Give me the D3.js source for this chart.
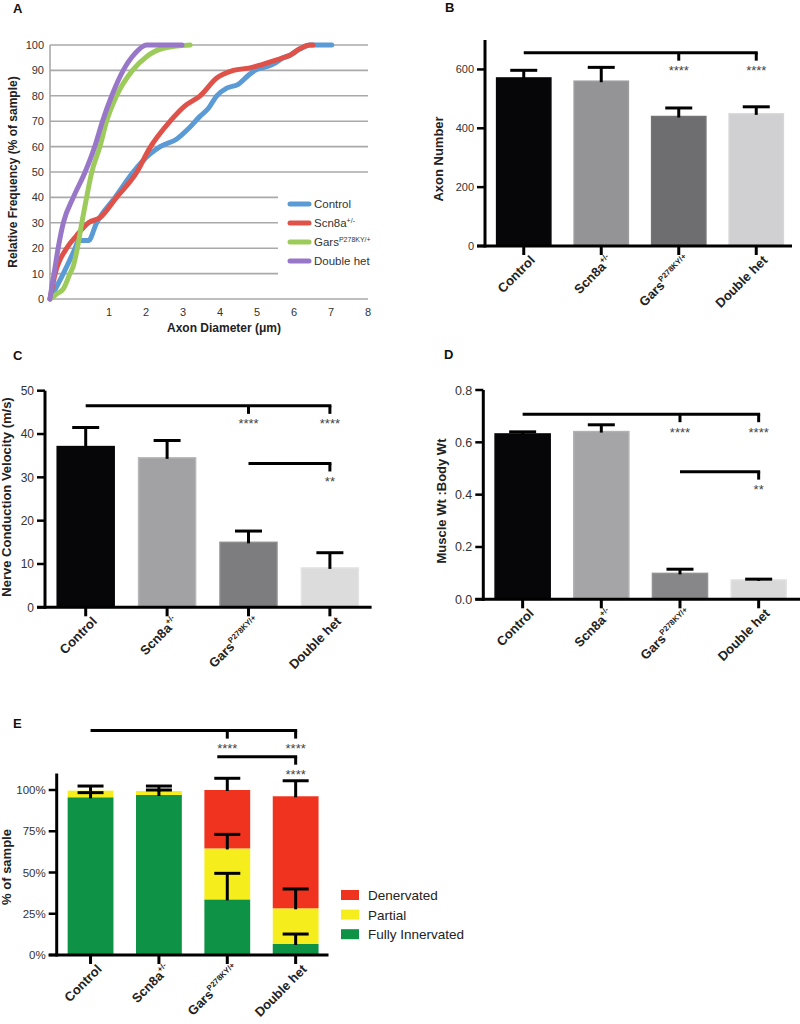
<!DOCTYPE html>
<html><head><meta charset="utf-8">
<script src="https://cdn.jsdelivr.net/npm/d3@7"></script>
<style>
body{margin:0;background:#fff}
svg{display:block}
text{font-family:"Liberation Sans",Arial,Helvetica,sans-serif}
</style>
</head><body>
<svg id="c" width="800" height="1024"></svg>
<script>
// ================= DATA =================
const groups = ["Control", "Scn8a", "Gars", "Double het"];
const groupSup = ["", "+/-", "P278KY/+", ""];

// Panel A: cumulative axon-diameter distributions (x = diameter µm, y = %)
const aSeries = ["Control", "Scn8a", "Gars", "Double het"];
const aSeriesSup = ["", "+/-", "P278KY/+", ""];
const aControlX = [-0.60, -0.24, 0.08, 0.17, 0.44, 0.66, 1.16, 1.65, 2.10, 2.38, 2.83, 3.14, 3.46, 3.68, 3.91, 4.18, 4.49, 4.76, 4.94, 5.26, 5.44, 5.71, 5.89, 6.16, 6.43, 7.02];
const aControlY = [0, 10, 20, 23, 23, 30, 40, 50, 57, 60, 63, 67, 72, 75, 80, 83, 84.5, 88, 90, 91.5, 92.5, 95, 96, 98.5, 100, 100];
const aScn8aX = [-0.60, -0.46, -0.15, 0.12, 0.44, 0.75, 1.20, 1.75, 2.08, 2.65, 3.05, 3.46, 3.91, 4.36, 4.81, 5.17, 5.71, 5.89, 6.16, 6.43, 6.51];
const aScn8aY = [0, 10, 20, 25, 30, 32, 40, 50, 59, 70, 76, 80, 87, 90, 91, 92.5, 95, 96, 98.5, 100, 100];
const aGarsX = [-0.60, -0.42, -0.24, -0.06, 0.03, 0.14, 0.26, 0.39, 0.53, 0.75, 0.93, 1.20, 1.63, 2.01, 2.46, 3.19];
const aGarsY = [0, 2, 4, 10, 13, 20, 30, 40, 50, 60, 70, 80, 90, 95.4, 98.7, 100];
const aDoubleX = [-0.60, -0.55, -0.49, -0.38, -0.24, 0.03, 0.35, 0.61, 0.82, 1.07, 1.38, 1.70, 2.01, 2.97];
const aDoubleY = [0, 5, 10, 20, 30, 40, 50, 60, 70, 80, 90, 96.7, 100, 100];
const aXTicks = [1, 2, 3, 4, 5, 6, 7, 8];
const aYTicks = [0, 10, 20, 30, 40, 50, 60, 70, 80, 90, 100];

// Panel B: axon number
const axonNumber = [571, 560, 440, 449];
const axonNumberSem = [26, 47, 29, 24];
const bTicks = [0, 200, 400, 600];

// Panel C: nerve conduction velocity (m/s)
const ncv = [37.1, 34.5, 15.0, 9.1];
const ncvSem = [4.4, 4.0, 2.6, 3.5];
const cTicks = [0, 10, 20, 30, 40, 50];

// Panel D: muscle wt : body wt
const muscleRatio = [0.632, 0.641, 0.099, 0.074];
const muscleRatioSem = [0.008, 0.026, 0.016, 0.003];
const dTicks = [0, 0.2, 0.4, 0.6, 0.8];

// Panel E: NMJ innervation (% of sample)
const eSeries = ["Fully Innervated", "Partial", "Denervated"];
const eFully = [95.6, 97.0, 33.7, 6.7];
const ePartial = [4.0, 2.4, 30.9, 21.6];
const eDenervated = [0, 0, 35.4, 67.9];
const eFullySem = [2.8, 3.0, 15.8, 6.0];
const ePartialSem = [2.8, 3.0, 8.5, 11.7];
const eDenervatedSem = [0, 0, 7.1, 9.4];
const eTicks = [0, 25, 50, 75, 100];

// significance annotations
const sigB = [{from: "Control", drops: ["Gars", "Double het"], label: "****", level: 657}];
const sigC = [{from: "Control", drops: ["Gars", "Double het"], label: "****", level: 46.5},
              {from: "Gars", drops: ["Double het"], label: "**", level: 33.2}];
const sigD = [{from: "Control", drops: ["Gars", "Double het"], label: "****", level: 0.7075},
              {from: "Gars", drops: ["Double het"], label: "**", level: 0.488}];
const sigE = [{from: "Control", drops: ["Gars", "Double het"], label: "****", level: 136},
              {from: "Gars", drops: ["Double het"], label: "****", level: 120.2}];

// ================= STYLE =================
const aColors = ["#5b9bd5", "#df524a", "#9dcb5b", "#9877c9"];
const eColors = {"Fully Innervated": "#0e9246", "Partial": "#f5ee1c", "Denervated": "#f0331f"};

const svg = d3.select("#c");

function panelLetter(t, x, y) {
  svg.append("text").attr("x", x).attr("y", y).attr("font-weight", "bold")
    .attr("font-size", 13).attr("fill", "#111").text(t);
}

// ================= PANEL A =================
(function () {
  const g = svg.append("g");
  const x = d3.scaleLinear().domain([-0.6, 8]).range([50, 368]);
  const y = d3.scaleLinear().domain([0, 100]).range([299, 45]);

  g.selectAll("line.grid").data(aYTicks).join("line")
    .attr("x1", x(-0.6)).attr("x2", x(8))
    .attr("y1", d => y(d)).attr("y2", d => y(d))
    .attr("stroke", "#a9a9a9").attr("stroke-width", 1.6);
  g.append("line").attr("x1", x(-0.6)).attr("x2", x(-0.6)).attr("y1", y(0)).attr("y2", y(100))
    .attr("stroke", "#a9a9a9").attr("stroke-width", 1.6);

  g.selectAll("text.yt").data(aYTicks).join("text")
    .attr("x", 44).attr("y", d => y(d) + 4).attr("text-anchor", "end")
    .attr("font-size", 11).attr("fill", "#333").text(d => d);
  g.selectAll("text.xt").data(aXTicks).join("text")
    .attr("x", d => x(d)).attr("y", 316).attr("text-anchor", "middle")
    .attr("font-size", 11).attr("fill", "#333").text(d => d);

  g.append("text").attr("transform", "translate(17,172) rotate(-90)")
    .attr("text-anchor", "middle").attr("font-weight", "bold").attr("font-size", 12).attr("fill", "#222")
    .text("Relative Frequency (% of sample)");
  g.append("text").attr("x", 224).attr("y", 332).attr("text-anchor", "middle")
    .attr("font-weight", "bold").attr("font-size", 12).attr("fill", "#222")
    .text("Axon Diameter (\u03bcm)");

  // legend background
  g.append("rect").attr("x", 278).attr("y", 184).attr("width", 100).attr("height", 100).attr("fill", "#fff");

  const line = d3.line().x(d => x(d[0])).y(d => y(d[1])).curve(d3.curveMonotoneX);
  const seriesData = [
    d3.zip(aControlX, aControlY), d3.zip(aScn8aX, aScn8aY),
    d3.zip(aGarsX, aGarsY), d3.zip(aDoubleX, aDoubleY)
  ];
  g.selectAll("path.s").data(seriesData).join("path")
    .attr("d", line).attr("fill", "none")
    .attr("stroke", (d, i) => aColors[i]).attr("stroke-width", 5)
    .attr("stroke-linejoin", "round").attr("stroke-linecap", "round");

  const lg = g.selectAll("g.lg").data(aSeries).join("g")
    .attr("transform", (d, i) => `translate(0,${204 + i * 19})`);
  lg.append("line").attr("x1", 290).attr("x2", 309).attr("y1", 0).attr("y2", 0)
    .attr("stroke", (d, i) => aColors[i]).attr("stroke-width", 5).attr("stroke-linecap", "round");
  const lt = lg.append("text").attr("x", 314).attr("y", 4).attr("font-size", 11.5).attr("fill", "#333");
  lt.append("tspan").text(d => d);
  lt.append("tspan").attr("font-size", 7).attr("dy", -4).text((d, i) => aSeriesSup[i]);
})();

// ================= BAR PANEL HELPERS =================
function xLabels(g, x, axisY, size) {
  const t = g.selectAll("text.xl").data(groups).join("text")
    .attr("transform", d => `translate(${x(d) + x.bandwidth() / 2 + 12},${axisY + 15})rotate(-45)`)
    .attr("text-anchor", "end").attr("font-weight", "bold").attr("font-size", size).attr("fill", "#222");
  t.append("tspan").text(d => d);
  t.append("tspan").attr("font-size", size * 0.6).attr("dy", -size * 0.45).text((d, i) => groupSup[i]);
}

function axes(g, x, y, ticks, fmt, fontSize, xExtra) {
  const x0 = x.range()[0];
  const axisY = y(0);
  g.append("line").attr("x1", x0).attr("x2", x0).attr("y1", axisY + 1.5).attr("y2", y.range()[1])
    .attr("stroke", "#000").attr("stroke-width", 3);
  g.selectAll("line.yt").data(ticks).join("line")
    .attr("x1", x0 - 8).attr("x2", x0).attr("y1", d => y(d)).attr("y2", d => y(d))
    .attr("stroke", "#000").attr("stroke-width", 2.5);
  g.selectAll("text.yl").data(ticks).join("text")
    .attr("x", x0 - 11).attr("y", d => y(d) + fontSize * 0.36).attr("text-anchor", "end")
    .attr("font-size", fontSize).attr("fill", "#333").text(fmt);
  g.append("line").attr("x1", x0 - 8).attr("x2", x.range()[1] + xExtra).attr("y1", axisY).attr("y2", axisY)
    .attr("stroke", "#000").attr("stroke-width", 3);
  g.selectAll("line.xt").data(groups).join("line")
    .attr("x1", d => x(d) + x.bandwidth() / 2).attr("x2", d => x(d) + x.bandwidth() / 2)
    .attr("y1", axisY).attr("y2", axisY + 9)
    .attr("stroke", "#000").attr("stroke-width", 3);
}

function errorBars(g, x, y, base, sem, capW) {
  const d = groups.map((k, i) => ({k, v: base[i], e: sem[i]})).filter(o => o.e > 0);
  const c = k => x(k) + x.bandwidth() / 2;
  g.selectAll(null).data(d).join("line")
    .attr("x1", o => c(o.k)).attr("x2", o => c(o.k)).attr("y1", o => y(o.v) + 1).attr("y2", o => y(o.v + o.e))
    .attr("stroke", "#000").attr("stroke-width", 3);
  g.selectAll(null).data(d).join("line")
    .attr("x1", o => c(o.k) - capW / 2).attr("x2", o => c(o.k) + capW / 2)
    .attr("y1", o => y(o.v + o.e)).attr("y2", o => y(o.v + o.e))
    .attr("stroke", "#000").attr("stroke-width", 3);
}

function sigBrackets(g, x, y, sig, startShift) {
  const c = k => x(k) + x.bandwidth() / 2;
  sig.forEach((s, si) => {
    const yy = y(s.level);
    const right = c(s.drops[s.drops.length - 1]);
    const left = c(s.from) + (si > 0 ? startShift : 0);
    g.append("line").attr("x1", left).attr("x2", right + 1.5).attr("y1", yy).attr("y2", yy)
      .attr("stroke", "#000").attr("stroke-width", 3);
    s.drops.forEach(dk => {
      g.append("line").attr("x1", c(dk)).attr("x2", c(dk)).attr("y1", yy).attr("y2", yy + 8)
        .attr("stroke", "#000").attr("stroke-width", 3);
      g.append("text").attr("x", c(dk)).attr("y", yy + 22.4).attr("text-anchor", "middle")
        .attr("font-size", 13).attr("fill", "#444").text(s.label);
    });
  });
}

function simpleBarPanel(opt, values, sem, ticks, sig) {
  const g = svg.append("g");
  const x = d3.scaleBand().domain(groups).range(opt.xr).paddingInner(0.3).paddingOuter(0.15);
  const y = d3.scaleLinear().domain(opt.yd).range(opt.yr);
  g.selectAll("rect.bar").data(groups).join("rect")
    .attr("x", d => x(d)).attr("width", x.bandwidth())
    .attr("y", (d, i) => y(values[i])).attr("height", (d, i) => y(0) - y(values[i]))
    .attr("fill", (d, i) => opt.fills[i]).attr("stroke", (d, i) => opt.strokes[i]).attr("stroke-width", 1.5);
  axes(g, x, y, ticks, opt.fmt, opt.tickFont, opt.xExtra);
  errorBars(g, x, y, values, sem, 27);
  sigBrackets(g, x, y, sig, 0);
  xLabels(g, x, y(0), 13);
  g.append("text").attr("transform", `translate(${opt.titleX},${opt.titleY})rotate(-90)`)
    .attr("text-anchor", "middle").attr("font-weight", "bold").attr("font-size", 13).attr("fill", "#222")
    .text(opt.title);
}

// ================= PANEL B =================
simpleBarPanel({
  xr: [485, 795], yd: [0, 700], yr: [246, 40],
  fills: ["#060608", "#949497", "#6e6e70", "#d0d0d2"],
  strokes: ["#060608", "#9c9c9f", "#747476", "#d6d6d8"],
  fmt: d => d, tickFont: 11, xExtra: -3,
  title: "Axon Number", titleX: 443, titleY: 159
}, axonNumber, axonNumberSem, bTicks, sigB);

// ================= PANEL C =================
simpleBarPanel({
  xr: [45, 370.6], yd: [0, 50], yr: [607.3, 390.7],
  fills: ["#060608", "#a2a2a4", "#7d7d7f", "#dcdcdd"],
  strokes: ["#060608", "#b6b6b8", "#8e8e90", "#e4e4e5"],
  fmt: d => d, tickFont: 12, xExtra: 1,
  title: "Nerve Conduction Velocity (m/s)", titleX: 11, titleY: 497
}, ncv, ncvSem, cTicks, sigC);

// ================= PANEL D =================
simpleBarPanel({
  xr: [483.3, 798], yd: [0, 0.8], yr: [599.3, 390],
  fills: ["#060608", "#a5a5a8", "#878789", "#d9d9da"],
  strokes: ["#060608", "#b2b2b5", "#929294", "#e2e2e3"],
  fmt: d3.format(".1f"), tickFont: 12.5, xExtra: 2,
  title: "Muscle Wt :Body Wt", titleX: 446, titleY: 501
}, muscleRatio, muscleRatioSem, dTicks, sigD);

// ================= PANEL E =================
(function () {
  const g = svg.append("g");
  const x = d3.scaleBand().domain(groups).range([56.7, 329.5]).paddingInner(0.33).paddingOuter(0.16);
  const y = d3.scaleLinear().domain([0, 110]).range([955, 773.5]);
  const rows = groups.map((k, i) => ({k, "Fully Innervated": eFully[i], "Partial": ePartial[i], "Denervated": eDenervated[i]}));
  const stacked = d3.stack().keys(eSeries)(rows);
  g.selectAll("g.layer").data(stacked).join("g").attr("fill", d => eColors[d.key])
    .selectAll("rect").data(d => d).join("rect")
    .attr("x", d => x(d.data.k)).attr("width", x.bandwidth())
    .attr("y", d => y(d[1])).attr("height", d => y(d[0]) - y(d[1]));

  axes(g, x, y, eTicks, d => d + "%", 11.5, -1);
  const fullyTop = eFully;
  const partialTop = eFully.map((v, i) => v + ePartial[i]);
  const denTop = partialTop.map((v, i) => v + eDenervated[i]);
  errorBars(g, x, y, fullyTop, eFullySem, 26);
  errorBars(g, x, y, partialTop, ePartialSem, 26);
  errorBars(g, x, y, denTop, eDenervatedSem, 26);
  sigBrackets(g, x, y, sigE, -10);
  xLabels(g, x, y(0), 13);
  g.append("text").attr("transform", "translate(11,867)rotate(-90)")
    .attr("text-anchor", "middle").attr("font-weight", "bold").attr("font-size", 13).attr("fill", "#222")
    .text("% of sample");

  const leg = g.selectAll("g.leg").data(eSeries.slice().reverse()).join("g")
    .attr("transform", (d, i) => `translate(341,${890 + i * 19.6})`);
  leg.append("rect").attr("width", 18).attr("height", 10).attr("fill", d => eColors[d]);
  leg.append("text").attr("x", 27).attr("y", 10).attr("font-size", 13.5).attr("fill", "#222").text(d => d);
})();

panelLetter("A", 13, 13);
panelLetter("B", 445, 12);
panelLetter("C", 13, 360);
panelLetter("D", 444, 359);
panelLetter("E", 13, 728);
</script>
</body></html>
